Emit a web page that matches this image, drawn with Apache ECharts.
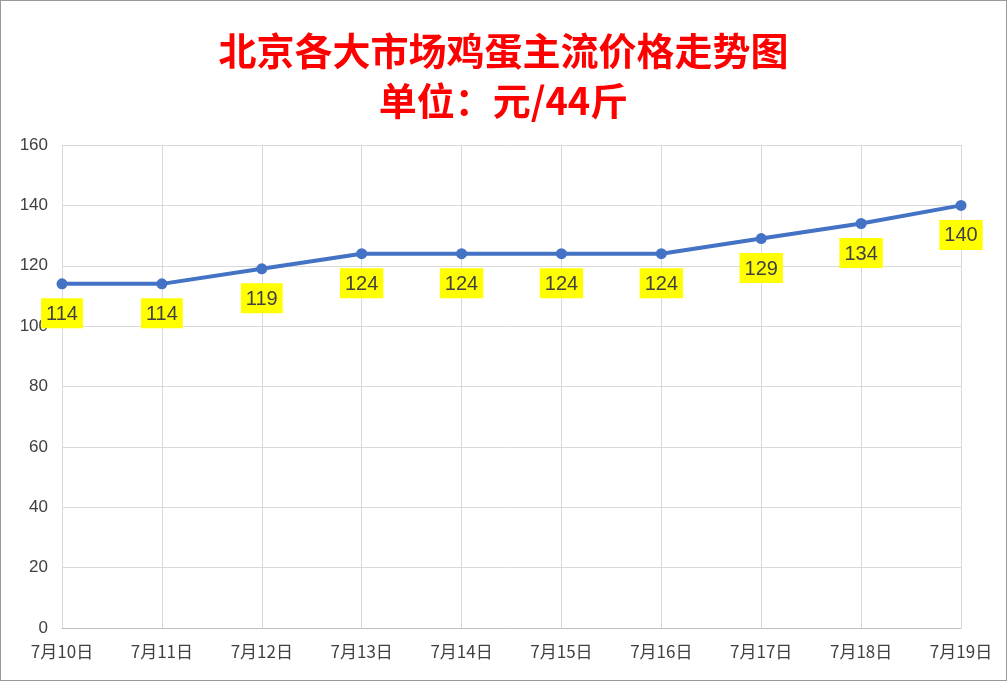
<!DOCTYPE html>
<html><head><meta charset="utf-8">
<script src="https://cdn.jsdelivr.net/npm/echarts@6/dist/echarts.min.js"></script>
<style>html,body{margin:0;padding:0;background:#fff}#c{width:1005px;height:679px;border:1px solid #999}</style>
</head><body><div id="c"></div>
<script>
const categories=['7月10日','7月11日','7月12日','7月13日','7月14日','7月15日','7月16日','7月17日','7月18日','7月19日'];
const prices=[114,114,119,124,124,124,124,129,134,140];
const titleLines=['北京各大市场鸡蛋主流价格走势图','单位：元/44斤'];
const chart=echarts.init(document.getElementById('c'));
chart.setOption({
  animation:false,
  title:{text:titleLines.join('\n'),left:'center',top:20,textStyle:{color:'#FF0000',fontSize:38,fontWeight:'bold',fontFamily:'Noto Sans CJK SC',lineHeight:50}},
  grid:{left:61,right:45,top:144,bottom:52},
  xAxis:{type:'category',data:categories,boundaryGap:false,
    axisLine:{lineStyle:{color:'#bfbfbf'}},axisTick:{show:false},
    splitLine:{show:true,lineStyle:{color:'#d9d9d9'}},
    axisLabel:{color:'#404040',fontSize:17,margin:15,fontFamily:'Noto Sans CJK SC'}},
  yAxis:{type:'value',min:0,max:160,interval:20,
    axisLine:{show:false},axisTick:{show:false},
    splitLine:{lineStyle:{color:'#d9d9d9'}},
    axisLabel:{color:'#404040',fontSize:17,margin:14}},
  series:[{type:'line',data:prices,color:'#4472C4',
    lineStyle:{width:4},symbol:'circle',symbolSize:11,
    label:{show:true,position:'bottom',distance:9,backgroundColor:'#FFFF00',color:'#404040',fontSize:20,padding:[6,5,4,5]}}]
});
</script></body></html>
